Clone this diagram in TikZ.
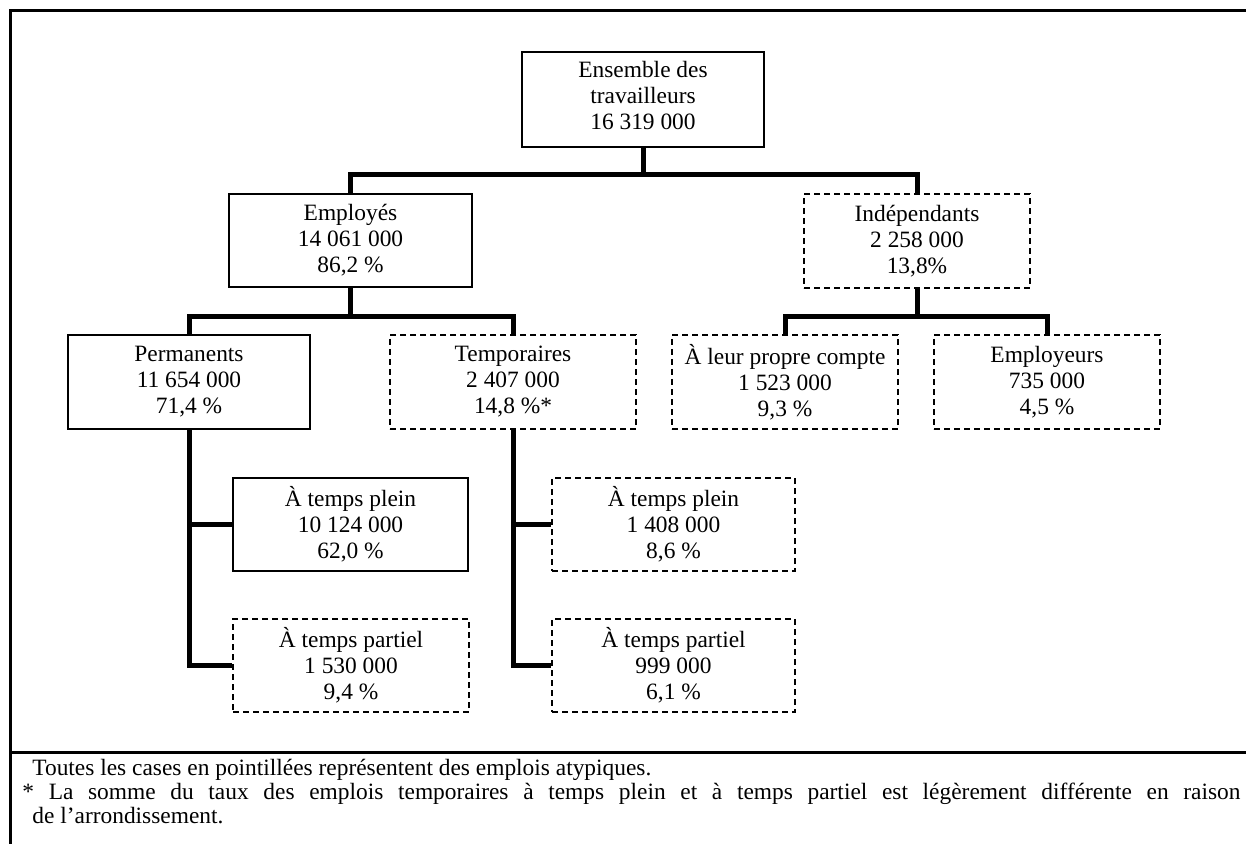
\documentclass[tikz,border=0pt]{standalone}
\usepackage{fontspec}
\setmainfont{Liberation Serif}

\begin{document}
\begin{tikzpicture}[x=0.5pt, y=-0.5pt,
    box/.style={draw, line width=0.75pt, align=center, inner sep=0pt,
        minimum height=46.5pt, font=\fontsize{11.7}{13}\selectfont},
    dbox/.style={box, dash pattern=on 3pt off 2pt},
    link/.style={line width=2.5pt},
    frame/.style={line width=1.5pt},
    note/.style={anchor=base west, inner sep=0pt, font=\fontsize{11.7}{13}\selectfont}]
    \useasboundingbox (0,0) rectangle (1246,844);
    % cadre et separation
    \draw[frame] (10,844) -- (10,11) -- (1246,11);
    \draw[frame] (10,752) -- (1246,752);
    % cases
    \node[box, minimum width=121pt, minimum height=47.5pt, text depth=4pt] (ens) at (643,99.5) {Ensemble des\\travailleurs\\16 319 000};
    \node[box, minimum width=121.5pt] (emp) at (350.5,240.5) {Employés\\14 061 000\\86,2 \%};
    \node[dbox, minimum width=113pt, minimum height=47pt] (ind) at (917,241) {Indépendants\\2 258 000\\13,8\%};
    \node[box, minimum width=121pt, minimum height=47pt] (perm) at (189,382) {Permanents\\11 654 000\\71,4 \%};
    \node[dbox, minimum width=123pt, minimum height=47pt] (temp) at (513,382) {Temporaires\\2 407 000\\14,8 \%*};
    \node[dbox, minimum width=113pt, minimum height=47pt] (propre) at (785,382) {À leur propre compte\\1 523 000\\9,3 \%};
    \node[dbox, minimum width=113pt, minimum height=47pt] (emplr) at (1047,382) {Employeurs\\735 000\\4,5 \%};
    \node[box, minimum width=117.5pt] (pplein) at (350.5,524.5) {À temps plein\\10 124 000\\62,0 \%};
    \node[dbox, minimum width=118pt] (ppartiel) at (351,665.5) {À temps partiel\\1 530 000\\9,4 \%};
    \node[dbox, minimum width=121.5pt] (tplein) at (673.5,524.5) {À temps plein\\1 408 000\\8,6 \%};
    \node[dbox, minimum width=121.5pt] (tpartiel) at (673.5,665.5) {À temps partiel\\999 000\\6,1 \%};
    % liaisons
    \coordinate (j1) at (643,175);
    \coordinate (j2) at (350.5,317);
    \coordinate (j3) at (917,317);
    \draw[link] (ens.south) -- (j1);
    \draw[link] (emp.north) |- (j1) -| (ind.north);
    \draw[link] (emp.south) -- (j2);
    \draw[link] (perm.north) |- (j2) -| (temp.north);
    \draw[link] (ind.south) -- (j3);
    \draw[link] (propre.north) |- (j3) -| (emplr.north);
    \draw[link] (perm.south) |- (pplein.west);
    \draw[link] (perm.south) |- (ppartiel.west);
    \draw[link] (temp.south) |- (tplein.west);
    \draw[link] (temp.south) |- (tpartiel.west);
    % notes
    \node[note] (n1) at (32,775) {Toutes les cases en pointillées représentent des emplois atypiques.};
    \node[note] (n2) at (22,799) {\hbox to 609pt{* La somme du taux des emplois temporaires à temps plein et à temps partiel est légèrement différente en raison}};
    \node[note] (n3) at (32,823) {de l’arrondissement.};
\end{tikzpicture}
\end{document}
